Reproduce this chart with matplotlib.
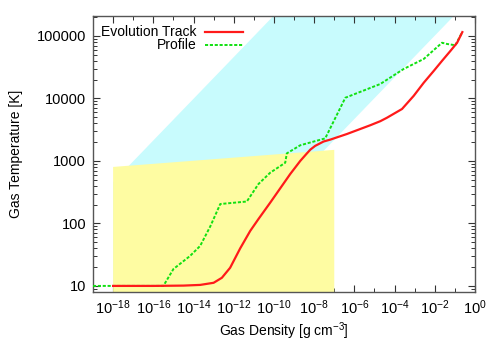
import numpy as np
import matplotlib
matplotlib.use("Agg")
import matplotlib.pyplot as plt
from matplotlib.ticker import LogLocator, LogFormatterSciNotation, NullFormatter, FixedLocator

plt.rcParams['font.family'] = ['Liberation Sans', 'DejaVu Sans']
plt.rcParams['mathtext.fontset'] = 'custom'
plt.rcParams['mathtext.rm'] = 'Liberation Sans'
plt.rcParams['mathtext.it'] = 'Liberation Sans:italic'

# Evolution track: log10(density), log10(temperature)
track_logrho = [-18, -16, -14.5, -13.67, -13.0, -12.59, -12.18, -11.68, -11.18, -10.77, -10.19,
                -9.69, -9.19, -8.69, -8.36, -8.19, -7.95, -7.53, -7.2, -6.37, -5.21, -4.71,
                -4.38, -3.63, -3.05, -2.55, -2.05, -1.64, -1.22, -0.89, -0.63]
track_logT = [1.0, 1.0, 1.005, 1.016, 1.05, 1.13, 1.29, 1.60, 1.88, 2.07, 2.33,
              2.56, 2.79, 3.0, 3.12, 3.18, 3.24, 3.31, 3.34, 3.43, 3.57, 3.635,
              3.69, 3.83, 4.04, 4.25, 4.44, 4.60, 4.76, 4.89, 5.06]

# Profile
prof_logrho = [-19, -15.5, -15.0, -14.17, -13.67, -13.17, -12.67, -11.35, -10.77, -10.19,
               -9.44, -9.36, -8.69, -7.45, -6.45, -4.71, -3.55, -2.55, -1.64, -1.39, -0.98, -0.65]
prof_logT = [1.0, 1.0, 1.27, 1.48, 1.64, 1.95, 2.31, 2.35, 2.63, 2.81,
             2.97, 3.12, 3.25, 3.36, 4.01, 4.23, 4.47, 4.63, 4.89, 4.87, 4.85, 5.05]

# Shaded regions
yellow_rho = [1e-18, 1e-7]
yellow_Ttop = [800, 1500]
cyan_rho = [1e-18, 1.0]
cyan_slope = 1.0 / 3.0
cyan_upper_logc = 8.66
cyan_lower_logc = 5.67

fig = plt.figure(figsize=(5, 3.5), dpi=100)
ax = fig.add_axes([0.186, 0.166, 0.764, 0.788])

xlim = (1e-19, 1.0)
ylim = (8.02, 2.07e5)

# cyan band
xb = np.log10(np.array(cyan_rho))
cx = np.concatenate([xb, xb[::-1]])
cy = np.concatenate([cyan_slope * xb + cyan_upper_logc, (cyan_slope * xb + cyan_lower_logc)[::-1]])
ax.fill(10 ** cx, 10 ** cy, color='#c8fbfd', lw=0, zorder=1)

# yellow region
ax.fill([yellow_rho[0], yellow_rho[0], yellow_rho[1], yellow_rho[1]],
        [1.0, yellow_Ttop[0], yellow_Ttop[1], 1.0], color='#fefca2', lw=0, zorder=2)

ax.plot(10 ** np.array(track_logrho), 10 ** np.array(track_logT), color='#ff1a1a', lw=1.6,
        zorder=4, solid_joinstyle='round')
ax.plot(10 ** np.array(prof_logrho), 10 ** np.array(prof_logT), color='#11e011', lw=1.4,
        dashes=(1.6, 0.9), zorder=3)

ax.set_xscale('log')
ax.set_yscale('log')
ax.set_xlim(*xlim)
ax.set_ylim(*ylim)

xt = [10.0 ** e for e in range(-18, 1, 2)]
ax.xaxis.set_major_locator(FixedLocator(xt))
ax.xaxis.set_major_formatter(LogFormatterSciNotation())
ax.xaxis.set_minor_locator(FixedLocator([10.0 ** e for e in range(-19, 1, 2)]))
ax.xaxis.set_minor_formatter(NullFormatter())

yt = [10, 100, 1000, 10000, 100000]
ax.yaxis.set_major_locator(FixedLocator(yt))
ax.set_yticklabels([str(v) for v in yt])
ax.yaxis.set_minor_locator(LogLocator(base=10, subs=np.arange(2, 10), numticks=20))
ax.yaxis.set_minor_formatter(NullFormatter())

ax.tick_params(which='both', direction='in', top=True, right=True, colors='#333333',
               labelcolor='black', labelsize=10.5)
ax.tick_params(which='major', length=5, width=0.8, pad=5)
ax.tick_params(which='minor', length=3, width=0.7)
for s in ax.spines.values():
    s.set_color('#555555')
    s.set_linewidth(1.0)

ax.set_xlabel('Gas Density [g cm$^{-3}$]', fontsize=10, labelpad=2)
ax.set_ylabel('Gas Temperature [K]', fontsize=10, labelpad=10)

# legend (manual, gnuplot style: right-aligned text, sample to the right)
tr = ax.transAxes
def px(xp, yp):
    return ((xp - 93.3) / (475 - 93.3), 1 - (yp - 16) / (292 - 16))
for label, yp, kw in [('Evolution Track', 32, dict(color='#ff1a1a', lw=1.6)),
                      ('Profile', 45, dict(color='#11e011', lw=1.4, dashes=(1.6, 0.9)))]:
    tx, ty = px(197, yp)
    ax.text(tx, ty, label, transform=tr, ha='right', va='center', fontsize=10, zorder=6)
    x0, _ = px(205, yp)
    x1, _ = px(243, yp)
    ax.plot([x0, x1], [ty, ty], transform=tr, zorder=6, **kw)

fig.savefig('out.png', dpi=100)
